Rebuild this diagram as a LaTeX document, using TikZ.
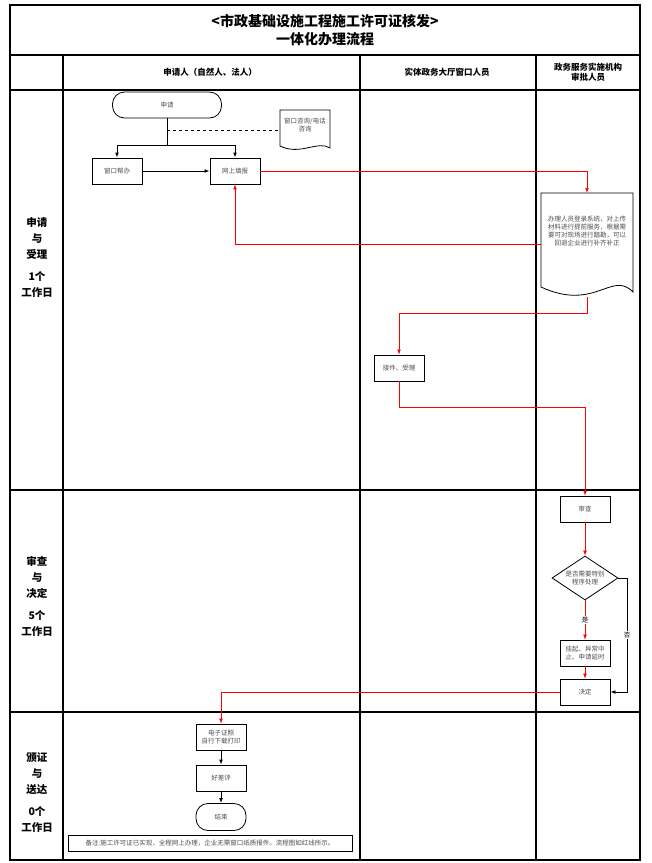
\documentclass[tikz,border=0pt]{standalone}
\usepackage{fontspec}
\setmainfont{Noto Sans CJK SC}
\usetikzlibrary{shapes.geometric,arrows.meta}
\begin{document}
\begin{tikzpicture}[x=1pt,y=-1pt,
 frame/.style={line width=1.1pt},
 box/.style={draw,thick,minimum width=50pt,minimum height=26pt,align=center,font=\fontsize{6.5}{8}\selectfont,text=black!70,inner sep=1pt},
 term/.style={box,rounded corners=12pt},
 redarr/.style={draw=red,line width=0.7pt,-{Latex[length=5pt]}},
 blk/.style={draw,thick,-{Latex[length=5pt]}},
 hd/.style={font=\bfseries\fontsize{8.5}{10}\selectfont,align=center},
 lane/.style={font=\bfseries\fontsize{10.5}{16}\selectfont,align=center}]
\useasboundingbox (0,0) rectangle (652,863);
% frames
\draw[frame] (10,5) rectangle (640,860);
\draw[frame] (10,55) -- (640,55);
\draw[frame] (10,90) -- (640,90);
\draw[frame] (63,55) -- (63,860);
\draw[frame] (360,55) -- (360,860);
\draw[frame] (536,55) -- (536,860);
\draw[frame] (10,490) -- (640,490);
\draw[frame] (10,712) -- (640,712);
\node[font=\bfseries\fontsize{14}{18}\selectfont,align=center] (title) at (325,30) {<市政基础设施工程施工许可证核发>\\一体化办理流程};
\node[hd] (h1) at (210,72) {申请人（自然人、法人）};
\node[hd] (h2) at (447,72) {实体政务大厅窗口人员};
\node[hd] (h3) at (588,72) {政务服务实施机构\\审批人员};
\node[lane] (l1) at (37,258) {申请\\与\\受理\\[6pt]1个\\工作日};
\node[lane] (l2) at (37,596) {审查\\与\\决定\\[6pt]5个\\工作日};
\node[lane] (l3) at (37,792) {颁证\\与\\送达\\[6pt]0个\\工作日};
% nodes
\node[term,minimum width=109pt] (apply) at (167,105) {申请};
\node[box] (win) at (117,171) {窗口帮办};
\node[box] (online) at (235,171) {网上填报};
% document shape: consult
\draw[thick] (280,110) -- (330,110) -- (330,148) .. controls (318,140) and (300,156) .. (280,146) -- cycle;
\node[font=\fontsize{6.5}{8}\selectfont,align=center,text=black!70] (consult) at (305,125) {窗口咨询/电话\\咨询};
\draw[thick,dashed] (167,130) -- (280,130);
\coordinate (br) at (167,145);
\draw[thick] (apply) -- (br);
\draw[blk] (br) -| (win.north);
\draw[blk] (br) -| (online.north);
\draw[blk] (win) -- (online);
% document shape: review
\draw[thick] (541,193) -- (633,193) -- (633,292) .. controls (612,270) and (595,312) .. (541,287) -- cycle;
\node[font=\fontsize{6.5}{8}\selectfont,align=center,text=black!70] (doc) at (587,231) {办理人员登录系统，对上传\\材料进行提前服务，根据需\\要可对现场进行踏勘，可以\\回退企业进行补齐补正};
\coordinate (docT) at (587,193);
\coordinate (docL) at (541,244);
\coordinate (docB) at (587,297);
\draw[redarr] (online.east) -| (docT);
\draw[redarr] (docL) -| (online.south);
\node[box] (recv) at (399,368) {接件、受理};
\draw[redarr] (docB) -- (587,313) -| (recv.north);
\node[box] (check) at (585,509) {审查};
\draw[redarr] (recv.south) -- (399,407) -| (check.north);
\node[diamond,draw,thick,minimum width=66pt,minimum height=44pt,aspect=1.5,inner sep=0pt,align=center,font=\fontsize{6.5}{8}\selectfont,text=black!70] (dia) at (585,578) {是否需要特别\\程序处理};
\draw[redarr] (check) -- (dia);
\node[box] (hang) at (585,653) {挂起、异常中\\止、申请延时};
\draw[redarr] (dia) -- node[fill=white,font=\fontsize{6.5}{8}\selectfont,inner sep=1pt] {是} (hang);
\node[box] (dec) at (585,692) {决定};
\draw[redarr] (hang) -- (dec);
\draw[blk] (dia.east) -- (627,578) -- node[fill=white,font=\fontsize{6.5}{8}\selectfont,inner sep=1pt] {否} (627,692) -- (dec.east);
\node[box] (cert) at (221,737) {电子证照\\自行下载打印};
\draw[redarr] (dec.west) -| (cert.north);
\node[box] (eval) at (221,778) {好差评};
\node[term,minimum height=27pt] (end) at (221,817) {结束};
\draw[blk] (cert) -- (eval);
\draw[blk] (eval) -- (end);
\node[draw,thick,minimum width=284pt,minimum height=16pt,font=\fontsize{6.5}{8}\selectfont,text=black!70,inner sep=1pt] (note) at (210,843) {备注:施工许可证已实现，全程网上办理，企业无需窗口纸质报件。流程图如红线所示。};
\end{tikzpicture}
\end{document}
